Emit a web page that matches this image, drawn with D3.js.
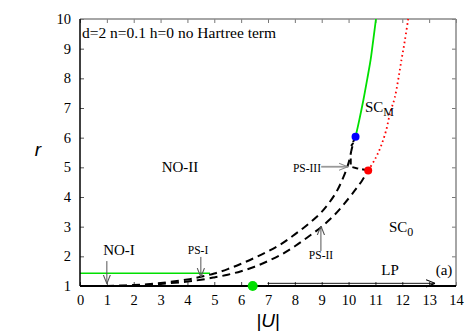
<!DOCTYPE html>
<html>
<head>
<meta charset="utf-8">
<script src="https://cdn.jsdelivr.net/npm/d3@7"></script>
<style>
  html, body { margin: 0; padding: 0; background: #fff; }
  svg { display: block; }
  text.serif { font-family: "Liberation Serif", "Times New Roman", "DejaVu Serif", serif; fill: #000; }
  text.sans { font-family: "Liberation Sans", Arial, sans-serif; font-style: italic; fill: #000; }
</style>
</head>
<body>
<div id="chart"></div>
<script>
// 相图数据 (|U|, r)
const xTicks = [0, 1, 2, 3, 4, 5, 6, 7, 8, 9, 10, 11, 12, 13, 14];
const yTicks = [1, 2, 3, 4, 5, 6, 7, 8, 9, 10];

// 上方虚线 (NO-II 边界)
const upperU = [0, 1, 2, 3, 4, 4.5, 5, 5.5, 6, 6.5, 7, 7.5, 8, 8.5, 9, 9.5, 9.8, 10.0, 10.1];
const upperR = [1.0, 1.0, 1.03, 1.1, 1.22, 1.31, 1.42, 1.57, 1.75, 1.95, 2.17, 2.42, 2.74, 3.09, 3.5, 4.1, 4.65, 5.15, 5.55];

// 蓝点下方的小折线
const zigU = [10.1, 10.17, 10.1, 10.26];
const zigR = [5.55, 5.82, 5.72, 6.03];

// 下方虚线 (PS-II 边界)
const lowerU = [0, 1, 2, 3, 4, 4.5, 5, 5.5, 6, 6.5, 7, 7.5, 8, 8.5, 9, 9.5, 10, 10.3, 10.5, 10.73];
const lowerR = [1.0, 1.0, 1.02, 1.07, 1.15, 1.21, 1.29, 1.38, 1.5, 1.65, 1.84, 2.06, 2.34, 2.66, 3.0, 3.42, 3.95, 4.3, 4.55, 4.89];

// PS-III 连接段
const ps3U = [10.08, 10.08, 10.3, 10.73];
const ps3R = [5.3, 5.02, 4.97, 4.89];

// 绿色实线 (SC_M 上边界)
const greenU = [10.26, 10.4, 10.55, 10.7, 10.82, 10.92, 11.02];
const greenR = [6.03, 6.6, 7.26, 8.0, 8.62, 9.3, 10.0];

// 红色点线
const redU = [10.73, 11.0, 11.2, 11.4, 11.55, 11.72, 11.97, 12.1, 12.22];
const redR = [4.89, 5.3, 5.7, 6.25, 6.85, 7.35, 8.62, 9.3, 10.0];

// 绿色水平线 r=1.43
const hLineU = [0, 4.84];
const hLineR = [1.43, 1.43];

// 特殊点
const pointU = [10.26, 10.73, 6.43];
const pointR = [6.03, 4.89, 1.0];
const pointColor = ['#0000ff', '#ff0000', '#00e000'];

const width = 473, height = 331;
const x = d3.scaleLinear().domain([0, 14]).range([80, 456]);
const y = d3.scaleLinear().domain([1, 10]).range([286, 19]);

const svg = d3.select('#chart').append('svg')
  .attr('width', width)
  .attr('height', height);

const defs = svg.append('defs');
function marker(id, color) {
  defs.append('marker')
    .attr('id', id)
    .attr('viewBox', '0 0 10 10')
    .attr('refX', 10).attr('refY', 5)
    .attr('markerWidth', 9).attr('markerHeight', 9)
    .attr('markerUnits', 'userSpaceOnUse')
    .attr('orient', 'auto')
    .append('path')
    .attr('d', 'M0,1 L10,5 L0,9')
    .attr('fill', 'none')
    .attr('stroke', color)
    .attr('stroke-width', 1.2);
}
marker('arrGray', '#555');
marker('arrLight', '#888');
marker('arrBlack', '#000');

// 坐标轴刻度 (向内)
const gx = svg.append('g').attr('transform', `translate(0,${y(1)})`)
  .call(d3.axisBottom(x).tickValues(xTicks).tickSizeInner(-4).tickSizeOuter(0).tickPadding(9));
const gxTop = svg.append('g').attr('transform', `translate(0,${y(10)})`)
  .call(d3.axisTop(x).tickValues(xTicks).tickSizeInner(-4).tickSizeOuter(0).tickFormat(''));
const gy = svg.append('g').attr('transform', `translate(${x(0)},0)`)
  .call(d3.axisLeft(y).tickValues(yTicks).tickSizeInner(-4).tickSizeOuter(0).tickPadding(9));
const gyRight = svg.append('g').attr('transform', `translate(${x(14)},0)`)
  .call(d3.axisRight(y).tickValues(yTicks).tickSizeInner(-4).tickSizeOuter(0).tickFormat(''));

[gx, gxTop, gy, gyRight].forEach(g => {
  g.select('.domain').remove();
  g.attr('font-family', null).attr('font-size', null);
});
gx.selectAll('line').attr('stroke', '#444');
gy.selectAll('line').attr('stroke', '#555');
gxTop.selectAll('line').attr('stroke', '#777');
gyRight.selectAll('line').attr('stroke', '#777');
svg.selectAll('.tick text')
  .attr('class', 'serif')
  .style('font-size', '14.5px')
  .attr('fill', '#000');

// 边框
svg.append('line').attr('x1', x(0)).attr('x2', x(14)).attr('y1', y(10)).attr('y2', y(10))
  .attr('stroke', '#888').attr('stroke-width', 1.5);
svg.append('line').attr('x1', x(14)).attr('x2', x(14)).attr('y1', y(10)).attr('y2', y(1))
  .attr('stroke', '#888').attr('stroke-width', 1.5);

const lineGen = d3.line().x(d => x(d[0])).y(d => y(d[1]));
const smooth = d3.line().x(d => x(d[0])).y(d => y(d[1])).curve(d3.curveCatmullRom);
const zip = (a, b) => a.map((v, i) => [v, b[i]]);

// 绿色水平线
svg.append('path').attr('d', lineGen(zip(hLineU, hLineR)))
  .attr('fill', 'none').attr('stroke', '#00e000').attr('stroke-width', 1.5);

// 虚线
svg.append('path').attr('d', smooth(zip(upperU, upperR)))
  .attr('fill', 'none').attr('stroke', '#000').attr('stroke-width', 2)
  .attr('stroke-dasharray', '8,5');
svg.append('path').attr('d', lineGen(zip(zigU, zigR)))
  .attr('fill', 'none').attr('stroke', '#000').attr('stroke-width', 2)
  .attr('stroke-dasharray', '5,3');
svg.append('path').attr('d', smooth(zip(lowerU, lowerR)))
  .attr('fill', 'none').attr('stroke', '#000').attr('stroke-width', 2)
  .attr('stroke-dasharray', '8,5');
svg.append('path').attr('d', lineGen(zip(ps3U, ps3R)))
  .attr('fill', 'none').attr('stroke', '#000').attr('stroke-width', 2)
  .attr('stroke-dasharray', '6,4');

// 绿色实线与红色点线
svg.append('path').attr('d', smooth(zip(greenU, greenR)))
  .attr('fill', 'none').attr('stroke', '#00e000').attr('stroke-width', 1.8);
svg.append('path').attr('d', smooth(zip(redU, redR)))
  .attr('fill', 'none').attr('stroke', '#ff0000').attr('stroke-width', 1.8)
  .attr('stroke-dasharray', '1.6,3');

// 底边框与左边框 (黑色)
svg.append('line').attr('x1', x(0)).attr('x2', x(14)).attr('y1', y(1)).attr('y2', y(1))
  .attr('stroke', '#000').attr('stroke-width', 2);
svg.append('line').attr('x1', x(0)).attr('x2', x(0)).attr('y1', y(10)).attr('y2', y(1))
  .attr('stroke', '#000').attr('stroke-width', 1.5);

// 箭头
function arrow(u1, r1, u2, r2, color, mk, w) {
  svg.append('line')
    .attr('x1', x(u1)).attr('y1', y(r1))
    .attr('x2', x(u2)).attr('y2', y(r2))
    .attr('stroke', color).attr('stroke-width', w)
    .attr('marker-end', `url(#${mk})`);
}
arrow(1.0, 1.84, 1.0, 1.08, '#555', 'arrGray', 1);
arrow(4.5, 1.98, 4.5, 1.3, '#555', 'arrGray', 1);
arrow(8.97, 2.18, 8.97, 3.02, '#555', 'arrGray', 1);
arrow(8.98, 5.02, 9.97, 5.02, '#999', 'arrLight', 1.8);
arrow(6.98, 1.09, 13.22, 1.09, '#000', 'arrBlack', 0.9);

// 特殊点
svg.selectAll('circle.pt')
  .data(pointU.map((u, i) => ({ u, r: pointR[i], c: pointColor[i] })))
  .enter().append('circle')
  .attr('class', 'pt')
  .attr('cx', d => x(d.u)).attr('cy', d => y(d.r))
  .attr('r', (d, i) => i === 2 ? 5 : 4)
  .attr('fill', d => d.c);

// 文字标签
function label(txt, px, py, size, anchor) {
  return svg.append('text')
    .attr('class', 'serif')
    .attr('x', px).attr('y', py)
    .style('font-size', size + 'px')
    .attr('text-anchor', anchor || 'middle')
    .text(txt);
}
label('d=2 n=0.1 h=0 no Hartree term', 82, 38, 15.5, 'start');
label('NO-II', 180, 172, 15);
label('NO-I', 119, 255, 15);
label('PS-I', 198, 254, 11.5);
label('PS-II', 321, 259, 11.5);
label('PS-III', 321, 172, 11.5, 'end');
label('LP', 390, 275, 15);
label('(a)', 444, 275, 15);

const sc0 = label('SC', 389, 232, 15, 'start');
sc0.append('tspan').style('font-size', '12px').attr('dy', 4).text('0');
const scm = label('SC', 365, 112, 15, 'start');
scm.append('tspan').style('font-size', '12px').attr('dy', 4).text('M');

// 坐标轴标题
svg.append('text')
  .attr('class', 'sans')
  .attr('x', 268).attr('y', 327)
  .attr('text-anchor', 'middle')
  .style('font-size', '19px')
  .text('|U|');
svg.append('text')
  .attr('class', 'sans')
  .attr('x', 38).attr('y', 156)
  .attr('text-anchor', 'middle')
  .style('font-size', '19px')
  .text('r');
</script>
</body>
</html>
